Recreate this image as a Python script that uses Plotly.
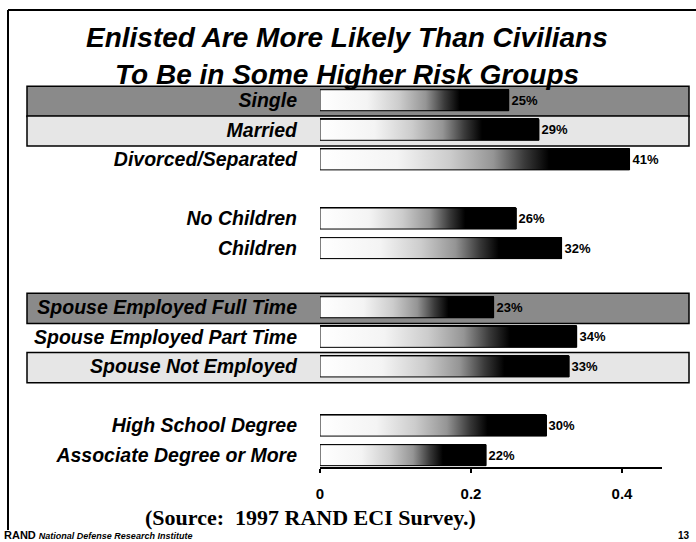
import plotly.graph_objects as go

# ---- data ----
categories = ["Single", "Married", "Divorced/Separated",
              "No Children", "Children",
              "Spouse Employed Full Time", "Spouse Employed Part Time", "Spouse Not Employed",
              "High School Degree", "Associate Degree or More"]
values = [0.25, 0.29, 0.41, 0.26, 0.32, 0.23, 0.34, 0.33, 0.30, 0.22]
value_labels = ["25%", "29%", "41%", "26%", "32%", "23%", "34%", "33%", "30%", "22%"]
group_sizes = [3, 2, 3, 2]
x_tick_vals = [0, 0.2, 0.4]
x_tick_text = ["0", "0.2", "0.4"]

title_lines = ["Enlisted Are More Likely Than Civilians", "To Be in Some Higher Risk Groups"]
source_text = "(Source: \u00a01997 RAND ECI Survey.)"

# ---- layout constants (pixels) ----
W, H = 696, 542
L, R, T, B = 320, 34, 81, 75
PW, PH = W - L - R, H - T - B

def px2x(px):
    return (px - L) / PW

def py2y(py):
    return (H - B - py) / PH

# slot positions: one blank slot between groups
slots = []
s = 0
for g in group_sizes:
    for _ in range(g):
        slots.append(s)
        s += 1
    s += 1

band_style = {
    "Single": "#8a8a8a",
    "Married": "#e6e6e6",
    "Spouse Employed Full Time": "#8a8a8a",
    "Spouse Not Employed": "#e6e6e6",
}

half = 0.355
grad = [[0, "#ffffff"], [0.25, "#f4f4f4"], [0.42, "#cccccc"], [0.56, "#959595"],
        [0.66, "#3a3a3a"], [0.74, "#000000"], [1, "#000000"]]

fig = go.Figure()

fig.add_trace(go.Bar(
    x=values, y=slots, orientation="h", width=2 * half,
    marker=dict(color="black", line=dict(color="black", width=1)),
    text=value_labels, textposition="outside", cliponaxis=False, constraintext="none",
    textfont=dict(family="Liberation Sans", size=13, color="black", weight="bold"),
    hoverinfo="skip", showlegend=False,
))

for v, sl in zip(values, slots):
    fig.add_trace(go.Scatter(
        x=[0, v, v, 0, 0], y=[sl - half, sl - half, sl + half, sl + half, sl - half],
        mode="lines", fill="toself",
        fillgradient=dict(type="horizontal", colorscale=grad),
        line=dict(color="black", width=1),
        hoverinfo="skip", showlegend=False,
    ))

shapes = []
for cat, sl in zip(categories, slots):
    if cat in band_style:
        shapes.append(dict(type="rect", xref="paper", yref="y", layer="below",
                           x0=px2x(27), x1=px2x(689), y0=sl - 0.47, y1=sl + 0.55,
                           fillcolor=band_style[cat], line=dict(color="black", width=1.5)))
# slide frame
shapes.append(dict(type="line", xref="paper", yref="paper", x0=px2x(8), x1=px2x(696),
                   y0=py2y(10), y1=py2y(10), line=dict(color="black", width=2)))
shapes.append(dict(type="line", xref="paper", yref="paper", x0=px2x(8), x1=px2x(8),
                   y0=py2y(10), y1=py2y(530), line=dict(color="black", width=2)))

annotations = []
for i, line in enumerate(title_lines):
    annotations.append(dict(text=line, xref="paper", yref="paper", x=px2x(347), y=py2y(37 + 38 * i),
                            xanchor="center", yanchor="middle", showarrow=False,
                            font=dict(family="Liberation Sans", size=28, color="black",
                                      weight="bold", style="italic")))
annotations.append(dict(text=source_text, xref="paper", yref="paper", x=px2x(310), y=py2y(517),
                        xanchor="center", yanchor="middle", showarrow=False,
                        font=dict(family="Liberation Serif", size=22, color="black", weight="bold")))
annotations.append(dict(text="<b>RAND</b> <b><i><span style='font-size:9px'>National Defense Research Institute</span></i></b>",
                        xref="paper", yref="paper", x=px2x(2), y=py2y(535),
                        xanchor="left", yanchor="middle", showarrow=False,
                        font=dict(family="Liberation Sans", size=11, color="black")))
annotations.append(dict(text="<b>13</b>", xref="paper", yref="paper", x=px2x(692), y=py2y(535),
                        xanchor="right", yanchor="middle", showarrow=False,
                        font=dict(family="Liberation Sans", size=10, color="black")))

fig.update_layout(
    width=W, height=H, margin=dict(l=L, r=R, t=T, b=B),
    paper_bgcolor="white", plot_bgcolor="rgba(0,0,0,0)",
    shapes=shapes, annotations=annotations, bargap=0,
    xaxis=dict(range=[0, 0.453], tickvals=x_tick_vals, ticktext=x_tick_text,
               showline=True, linecolor="black", linewidth=2, ticks="outside",
               ticklen=4, tickwidth=2, tickcolor="black", showgrid=False, zeroline=False,
               ticklabelstandoff=8,
               tickfont=dict(family="Liberation Sans", size=15, color="black", weight="bold"),
               fixedrange=True),
    yaxis=dict(range=[12.4, -0.65], tickvals=slots, ticktext=categories,
               showline=False, showgrid=False, zeroline=False, ticks="",
               ticklabelstandoff=22,
               tickfont=dict(family="Liberation Sans", size=19.5, color="black",
                             weight="bold", style="italic"),
               fixedrange=True),
)

fig.write_html("out.html", config={"displayModeBar": False},
               post_script="document.body.style.margin='0px';document.body.style.overflow='hidden';")
